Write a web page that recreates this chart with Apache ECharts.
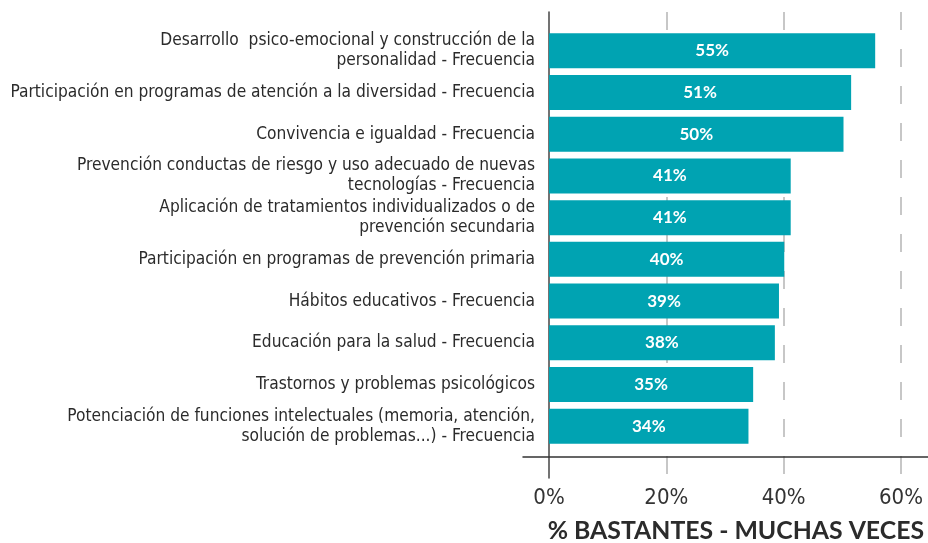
<!DOCTYPE html>
<html>
<head>
<meta charset="utf-8">
<script src="https://cdn.jsdelivr.net/npm/echarts@6/dist/echarts.min.js"></script>
<style>
  html, body { margin: 0; padding: 0; background: #fff; }
  #chart { width: 928px; height: 543px; }
</style>
</head>
<body>
<div id="chart"></div>
<script>
    // datos (de arriba a abajo)
    var categorias = [
        'Desarrollo  psico-emocional y construcción de la\npersonalidad - Frecuencia',
        'Participación en programas de atención a la diversidad - Frecuencia',
        'Convivencia e igualdad - Frecuencia',
        'Prevención conductas de riesgo y uso adecuado de nuevas\ntecnologías - Frecuencia',
        'Aplicación de tratamientos individualizados o de\nprevención secundaria',
        'Participación en programas de prevención primaria',
        'Hábitos educativos - Frecuencia',
        'Educación para la salud - Frecuencia',
        'Trastornos y problemas psicológicos',
        'Potenciación de funciones intelectuales (memoria, atención,\nsolución de problemas...) - Frecuencia'
    ];
    var valores = [55.6, 51.5, 50.2, 41.2, 41.2, 40.1, 39.2, 38.5, 34.8, 34.0];
    var etiquetas = ['55%', '51%', '50%', '41%', '41%', '40%', '39%', '38%', '35%', '34%'];
    var ticks = [0, 20, 40, 60];

    var fuente = "'Liberation Sans Narrow', 'DejaVu Sans Condensed', sans-serif";
    var chart = echarts.init(document.getElementById('chart'));

    chart.setOption({
        animation: false,
        title: {
            text: '% BASTANTES - MUCHAS VECES',
            right: -1,
            top: 514,
            textStyle: { fontFamily: 'Lato', fontWeight: 'bold', fontSize: 24.8, color: '#2b2b2b' }
        },
        grid: [
            { left: 549, right: 27, top: 30, bottom: 96 },   // barras
            { left: 549, right: 27, top: 12, bottom: 65 },   // rejilla
            { left: 523, right: 0, top: 12, bottom: 86 }     // linea eje x
        ],
        xAxis: [
            { gridIndex: 0, type: 'value', min: 0, max: 60, interval: 20, show: false },
            {
                gridIndex: 1, type: 'value', min: 0, max: 60, interval: 20,
                axisLine: { show: false },
                axisTick: { show: false },
                splitLine: { show: true, showMinLine: false, lineStyle: { color: '#b5b5b5', width: 1.5, type: [18, 19] } },
                axisLabel: {
                    margin: 9,
                    fontFamily: fuente, fontSize: 22, color: '#333',
                    formatter: function (v) { return ticks.indexOf(v) > -1 ? v + '%' : ''; }
                }
            },
            {
                gridIndex: 2, type: 'value', min: 0, max: 1,
                axisLine: { show: true, lineStyle: { color: '#333', width: 1.5 } },
                axisTick: { show: false }, axisLabel: { show: false }, splitLine: { show: false }
            }
        ],
        yAxis: [
            {
                gridIndex: 0, type: 'category', data: categorias, inverse: true,
                axisLine: { show: false }, axisTick: { show: false },
                axisLabel: { margin: 14, fontFamily: fuente, fontSize: 17.2, lineHeight: 20, color: '#2b2b2b', align: 'right' }
            },
            {
                gridIndex: 1, type: 'value', min: 0, max: 1,
                axisLine: { show: true, lineStyle: { color: '#444', width: 1.5 } },
                axisTick: { show: false }, axisLabel: { show: false }, splitLine: { show: false }
            },
            {
                gridIndex: 2, type: 'value', min: 0, max: 1, show: false
            }
        ],
        series: [{
            type: 'bar',
            xAxisIndex: 0, yAxisIndex: 0,
            data: valores,
            barCategoryGap: '16%',
            itemStyle: { color: '#00a3b2' },
            label: {
                show: true, position: 'inside',
                color: '#fff', fontFamily: 'Lato', fontWeight: 'bold', fontSize: 17,
                formatter: function (p) { return etiquetas[p.dataIndex]; }
            }
        }]
    });
</script>
</body>
</html>
